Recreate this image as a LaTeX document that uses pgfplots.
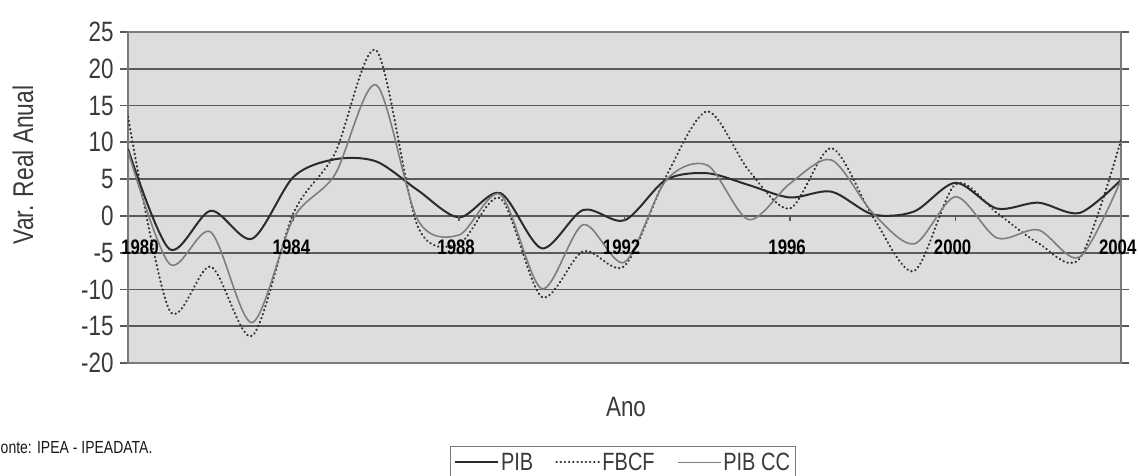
\documentclass[border=0pt]{standalone}
\usepackage{fontspec}
\setmainfont{Liberation Sans}[FakeStretch=0.8]
\usepackage{pgfplots}
\pgfplotsset{compat=1.18}
\definecolor{bg}{HTML}{DDDDDD}
\definecolor{gridc}{HTML}{5A5A5A}
\definecolor{framec}{HTML}{7A7A7A}
\definecolor{pib}{HTML}{2B2B2B}
\definecolor{fbcf}{HTML}{303030}
\definecolor{pibcc}{HTML}{7E7E7E}
\definecolor{txt}{HTML}{3A3A3A}

\pgfplotstableread{
year pib fbcf pibcc
1980 9.1 13.5 8.8
1981 -4.5 -12.8 -6.5
1982 0.7 -6.9 -2.2
1983 -3.1 -16.3 -14.5
1984 5.3 0.4 -0.3
1985 7.7 8.5 5.6
1986 7.4 22.5 17.8
1987 3.5 -1.4 -0.5
1988 -0.2 -3.8 -2.6
1989 3.1 2.4 2.9
1990 -4.4 -11.0 -9.9
1991 0.8 -4.8 -1.2
1992 -0.6 -6.8 -6.3
1993 4.9 5.3 4.8
1994 5.8 14.2 6.9
1995 4.2 6.2 -0.5
1996 2.5 1.0 4.4
1997 3.3 9.2 7.6
1998 0.2 -0.1 0.4
1999 0.6 -7.5 -3.8
2000 4.5 4.3 2.6
2001 1.0 0.4 -3.0
2002 1.8 -3.7 -1.9
2003 0.4 -5.8 -5.6
2004 4.9 10.3 4.9
}\datatable

\begin{document}
\begin{tikzpicture}
\begin{axis}[
  at={(128pt,112pt)}, anchor=south west,
  scale only axis, width=993pt, height=331pt,
  xmin=1980, xmax=2004, ymin=-20, ymax=25,
  ytick={-20,-15,...,25},
  xtick=\empty,
  ymajorgrids, grid style={draw=gridc, line width=1.7pt},
  axis background/.style={fill=bg},
  axis line style={draw=framec, line width=1.4pt},
  tick align=outside, major tick length=8pt,
  ytick style={draw=gridc, line width=1.7pt},
  yticklabel style={font=\fontsize{28}{28}\selectfont, text=txt, xshift=-3pt},
  /pgf/number format/assume math mode=true,
  clip mode=individual,
  legend columns=3,
  legend style={at={(0.4985,-0.3)}, anchor=center, draw=framec, line width=1pt,
    font=\fontsize{25}{25}\selectfont, text=txt, inner sep=4pt,
    nodes={inner xsep=2pt},
    /tikz/every even column/.append style={column sep=20pt}},
  legend image code/.code={\draw[#1] (0pt,0pt) -- (43pt,0pt);},
]
\addplot[pib, line width=2pt, smooth, tension=0.5] table[x=year, y=pib] {\datatable};
\addlegendentry{PIB}
\addplot[fbcf, line width=2.2pt, line cap=round, dash pattern=on 0.4pt off 3.8pt, smooth, tension=0.5] table[x=year, y=fbcf] {\datatable};
\addlegendentry{FBCF}
\addplot[pibcc, line width=1.6pt, smooth, tension=0.5] table[x=year, y=pibcc] {\datatable};
\addlegendentry{PIB CC}

\draw[gridc, line width=1.4pt] (axis cs:1984,0) -- ([yshift=-5pt]axis cs:1984,0);
\draw[gridc, line width=1.4pt] (axis cs:1988,0) -- ([yshift=-5pt]axis cs:1988,0);
\draw[gridc, line width=1.4pt] (axis cs:1992,0) -- ([yshift=-5pt]axis cs:1992,0);
\draw[gridc, line width=1.4pt] (axis cs:1996,0) -- ([yshift=-5pt]axis cs:1996,0);
\draw[gridc, line width=1.4pt] (axis cs:2000,0) -- ([yshift=-5pt]axis cs:2000,0);

\node[font=\bfseries\fontsize{21}{21}\selectfont, text=black] at (axis cs:1980.29,-4.3) {1980};
\node[font=\bfseries\fontsize{21}{21}\selectfont, text=black] at (axis cs:1983.95,-4.3) {1984};
\node[font=\bfseries\fontsize{21}{21}\selectfont, text=black] at (axis cs:1987.93,-4.3) {1988};
\node[font=\bfseries\fontsize{21}{21}\selectfont, text=black] at (axis cs:1991.93,-4.3) {1992};
\node[font=\bfseries\fontsize{21}{21}\selectfont, text=black] at (axis cs:1995.93,-4.3) {1996};
\node[font=\bfseries\fontsize{21}{21}\selectfont, text=black] at (axis cs:1999.93,-4.3) {2000};
\node[font=\bfseries\fontsize{21}{21}\selectfont, text=black] at (axis cs:2003.92,-4.3) {2004};
\end{axis}
\node[rotate=90, font=\fontsize{28.5}{28.5}\selectfont, text=txt] at (23pt,310pt) {Var. Real Anual};
\node[font=\fontsize{28}{28}\selectfont, text=txt] at (626pt,68pt) {Ano};
\node[anchor=east, font=\fontsize{17.5}{17.5}\selectfont, text=black!90] at (156pt,27pt) {Fonte: IPEA - IPEADATA.};
\pgfresetboundingbox
\path[use as bounding box] (0pt,0pt) rectangle (1138pt,475pt);
\end{tikzpicture}
\end{document}
